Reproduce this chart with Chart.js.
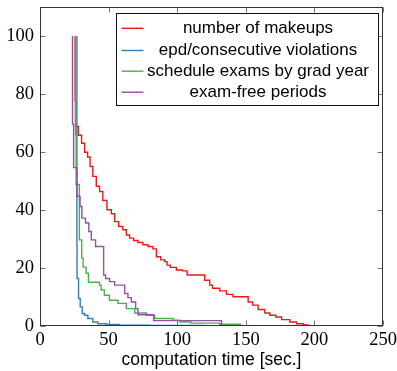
<!DOCTYPE html>
<html>
<head>
<meta charset="utf-8">
<script src="https://cdn.jsdelivr.net/npm/chart.js@4.4.1/dist/chart.umd.min.js"></script>
<style>
  html, body { margin: 0; padding: 0; background: #fff; }
</style>
</head>
<body>
<canvas id="chart" width="397" height="371"></canvas>
<script>
// ticks
const xTicks = [0, 50, 100, 150, 200, 250];
const yTicks = [0, 20, 40, 60, 80, 100];

// legend names
const seriesNames = [
  'number of makeups',
  'epd/consecutive violations',
  'schedule exams by grad year',
  'exam-free periods'
];

// number of makeups (red)
const makeupsX = [25.6, 25.9, 27.9, 30.3, 32.5, 34.7, 36.5, 38.5, 41.0, 43.4, 45.8, 48.8, 52.0, 54.4, 57.3, 60.4, 62.9, 65.3, 68.2, 71.4, 75.0, 78.7, 82.3, 84.8, 88.0, 90.9, 92.6, 95.0, 99.4, 103.8, 107.2, 120.1, 123.7, 125.7, 131.0, 135.9, 140.7, 151.7, 154.9, 159.0, 163.9, 167.5, 171.9, 176.1, 182.1, 187.0, 191.8, 195.5, 200.4];
const makeupsY = [100, 77.6, 68.8, 65.8, 63.0, 59.9, 58.3, 55.0, 51.6, 48.2, 46.4, 43.3, 40.1, 38.7, 36.0, 34.3, 33.2, 31.4, 30.3, 29.5, 28.8, 28.0, 27.4, 26.6, 23.9, 22.8, 22.2, 21.0, 20.2, 19.3, 19.0, 17.6, 15.8, 14.1, 13.0, 12.1, 10.9, 10.1, 8.3, 7.2, 5.7, 4.5, 3.7, 3.1, 2.2, 1.4, 0.8, 0.4, 0];

// epd/consecutive violations (blue)
const epdX = [26.9, 27.0, 28.1, 29.3, 30.8, 32.5, 34.9, 38.5, 42.2, 48.3, 58.0, 80, 120, 160, 202];
const epdY = [100, 28.0, 16.4, 9.5, 6.6, 4.3, 3.7, 2.6, 1.4, 0.8, 0.5, 0.3, 0.2, 0.1, 0];

// schedule exams by grad year (green)
const gradX = [25.9, 26.3, 28.7, 30.4, 31.4, 33.6, 35.3, 43.4, 44.6, 46.9, 50.6, 56.8, 62.9, 69.0, 77.5, 83.6, 97, 102, 110, 131, 146, 181];
const gradY = [100, 66, 48.8, 29.7, 23.4, 20.3, 18.2, 15.1, 14.1, 12.4, 10.6, 8.9, 7.8, 6.0, 4.5, 3.7, 2.6, 2.0, 1.4, 1.0, 0.6, 0];

// exam-free periods (purple)
const freeX = [23.7, 24.5, 26.9, 29.2, 30.5, 33.2, 35.6, 37.4, 40.5, 46.4, 47.8, 50.7, 54.4, 61.7, 64.1, 66.6, 69.7, 71.4, 82.8, 132.3, 168.8, 202];
const freeY = [100, 69.6, 54.6, 44.7, 41.2, 37.2, 35.5, 32.6, 29.7, 27.4, 17.6, 16.4, 15.3, 14.1, 11.2, 9.8, 8.3, 6.0, 3.9, 1.85, 0, 0];

const colors = ['#e41a1c', '#377eb8', '#4daf4a', '#984ea3'];

function pts(xs, ys) {
  return xs.map((v, i) => ({ x: v, y: ys[i] }));
}

const allX = [makeupsX, epdX, gradX, freeX];
const allY = [makeupsY, epdY, gradY, freeY];

const datasets = seriesNames.map((name, i) => ({
  label: name,
  data: pts(allX[i], allY[i]),
  borderColor: colors[i],
  borderWidth: 1.4,
  stepped: 'after',
  pointRadius: 0,
  fill: false,
  order: 3 - i
}));

// frame, inward ticks and legend box
const framePlugin = {
  id: 'frame',
  afterDraw(chart) {
    const { ctx, chartArea: a, scales: { x, y } } = chart;
    const L = Math.round(a.left) + 0.5, R = Math.round(a.right) - 0.5;
    const T = Math.round(a.top) + 0.5, B = Math.round(a.bottom) - 0.5;
    ctx.save();
    ctx.strokeStyle = '#777';
    ctx.lineWidth = 1;
    ctx.beginPath();
    xTicks.forEach(v => {
      const p = Math.round(x.getPixelForValue(v)) + 0.5;
      ctx.moveTo(p, B); ctx.lineTo(p, B - 5);
      ctx.moveTo(p, T); ctx.lineTo(p, T + 5);
    });
    yTicks.forEach(v => {
      const p = Math.round(y.getPixelForValue(v)) + 0.5;
      ctx.moveTo(L, p); ctx.lineTo(L + 5, p);
      ctx.moveTo(R, p); ctx.lineTo(R - 5, p);
    });
    ctx.stroke();

    ctx.strokeStyle = '#333';
    ctx.strokeRect(L, T, R - L, B - T);

    // legend
    ctx.fillStyle = '#fff';
    ctx.fillRect(116.5, 13.5, 262, 92);
    ctx.strokeStyle = '#111';
    ctx.strokeRect(116.5, 13.5, 262, 92);
    const rows = [28.3, 50.5, 71.2, 92.2];
    ctx.font = '17px "Liberation Sans", Arial, sans-serif';
    ctx.textAlign = 'center';
    ctx.textBaseline = 'alphabetic';
    seriesNames.forEach((name, i) => {
      ctx.strokeStyle = colors[i];
      ctx.lineWidth = 1.4;
      ctx.beginPath();
      ctx.moveTo(121.5, rows[i]);
      ctx.lineTo(143.5, rows[i]);
      ctx.stroke();
      ctx.fillStyle = '#000';
      ctx.fillText(name, 258, rows[i] + 4.5);
    });
    ctx.restore();
  }
};

new Chart(document.getElementById('chart'), {
  type: 'line',
  data: { datasets },
  options: {
    responsive: false,
    animation: false,
    events: [],
    layout: { padding: { left: 0, right: 14, top: 7, bottom: 0 } },
    plugins: { legend: { display: false }, tooltip: { enabled: false } },
    scales: {
      x: {
        type: 'linear',
        min: 0,
        max: 250,
        grid: { display: false, drawTicks: false },
        border: { display: false },
        afterBuildTicks: s => { s.ticks = xTicks.map(v => ({ value: v })); },
        afterFit: s => { s.height = 45; s.paddingLeft = 0; s.paddingRight = 0; },
        ticks: {
          padding: 3,
          color: '#000',
          font: { family: '"Liberation Serif", serif', size: 18.5 }
        },
        title: {
          display: true,
          text: 'computation time [sec.]',
          color: '#000',
          padding: { top: 0, bottom: 0 },
          font: { family: '"Liberation Sans", Arial, sans-serif', size: 17.5 }
        }
      },
      y: {
        type: 'linear',
        min: 0,
        max: 110,
        grid: { display: false, drawTicks: false },
        border: { display: false },
        afterBuildTicks: s => { s.ticks = yTicks.map(v => ({ value: v })); },
        afterFit: s => { s.width = 40; s.paddingTop = 0; s.paddingBottom = 0; },
        ticks: {
          padding: 6,
          color: '#000',
          font: { family: '"Liberation Serif", serif', size: 18.5 }
        }
      }
    }
  },
  plugins: [framePlugin]
});
</script>
</body>
</html>
